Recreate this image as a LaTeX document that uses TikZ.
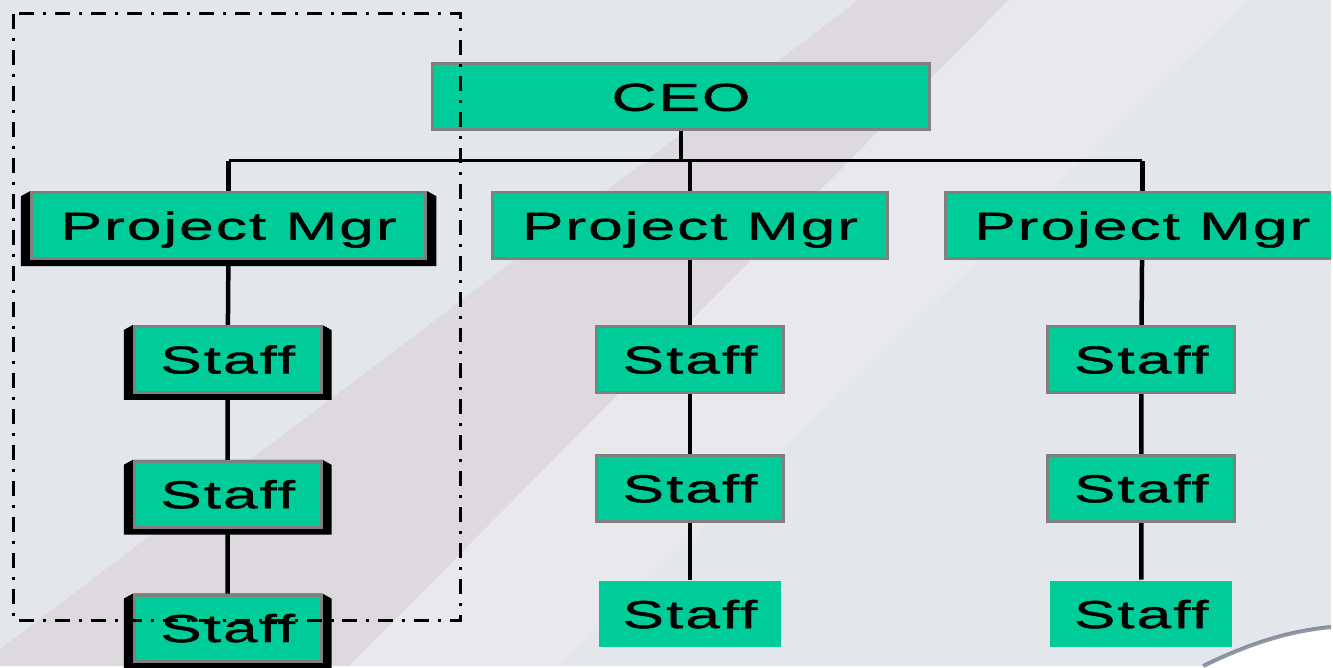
\documentclass[tikz,border=0pt]{standalone}
\usepackage{fontspec}
\newfontfamily\orgfont[FakeStretch=1.6,LetterSpace=5,FakeBold=1]{Liberation Sans}
\usetikzlibrary{calc}
\pgfdeclarelayer{paper}
\pgfdeclarelayer{back}
\pgfsetlayers{paper,back,main}
\definecolor{orggreen}{RGB}{0,204,153}
\definecolor{orggray}{RGB}{128,128,128}
\definecolor{paperblue}{RGB}{227,230,235}
\definecolor{paperpink}{RGB}{222,217,222}
\definecolor{paperlight}{RGB}{231,233,237}
\definecolor{curledge}{RGB}{70,85,110}
\tikzset{
  box/.style={fill=orggreen, draw=orggray, line width=3pt, inner sep=0pt,
    minimum height=66pt, text height=28pt, text depth=0pt,
    font=\orgfont\fontsize{39}{39}\selectfont},
  flatbox/.style={box, draw=none},
  link/.style={line width=4.5pt},
  busline/.style={line width=3pt},
}
% black side walls of the boxes in the left team
\newcommand\sidewall[1]{%
  \fill ($(#1.north west)+(-9,5)$) -- (#1.north west) -- (#1.north east)
    -- ($(#1.north east)+(9,5)$) -- ($(#1.south east)+(9,6)$)
    -- ($(#1.south west)+(-9,6)$) -- cycle;}
\begin{document}
\begin{tikzpicture}[x=1pt,y=-1pt]
  % page
  \begin{pgfonlayer}{paper}
    \fill[paperblue] (0,0) rectangle (1333,667);
    \fill[paperpink] (0,650) -- (860,0) -- (1010,0) -- (350,667) -- (0,667) -- cycle;
    \fill[paperlight] (1010,0) -- (1250,0) -- (560,667) -- (350,667) -- cycle;
    \fill[white] (1205,667) .. controls (1250,645) and (1290,632) .. (1333,628) -- (1333,667) -- cycle;
    \draw[curledge, line width=4pt, opacity=.6] (1205,667) .. controls (1250,645) and (1290,632) .. (1333,628);
  \end{pgfonlayer}
  \useasboundingbox (0,0) rectangle (1333,667);
  \clip (0,0) rectangle (1333,667);

  % boxes
  \node[box, minimum width=497pt] (ceo) at (682,97) {CEO};
  \node[box, minimum width=395pt] (pm1) at (229,226) {Project Mgr};
  \node[box, minimum width=395pt] (pm2) at (691,226) {Project Mgr};
  \node[box, minimum width=395pt] (pm3) at (1144,226) {Project Mgr};
  \foreach \y [count=\i] in {360,495,629}
    \node[box, minimum width=187pt] (sa\i) at (228,\y) {Staff};
  \foreach \x/\c in {691/b,1143/c} {
    \node[box, minimum width=187pt] (s\c1) at (\x,360) {Staff};
    \node[box, minimum width=187pt] (s\c2) at (\x,489) {Staff};
    \node[flatbox, minimum width=182pt] (s\c3) at (\x,615) {Staff};
  }

  % lines
  \begin{pgfonlayer}{back}
    \coordinate (bus) at (0,161);
    \draw[link] (ceo.south) -- (ceo.south |- bus);
    \draw[busline] (pm1.north |- bus) -- (pm3.north |- bus);
    \draw[link] (pm1.north) -- (pm1.north |- bus);
    \draw[link] (pm2.north) -- (pm2.north |- bus);
    \draw[link] (pm3.north) -- (pm3.north |- bus);
    \draw[link] (pm1) -- (sa1) -- (sa2) -- (sa3);
    \draw[link] (pm2) -- (sb1) -- (sb2) -- (sb3);
    \draw[link] (pm3) -- (sc1) -- (sc2) -- (sc3);
    \sidewall{pm1}
    \foreach \i in {1,2,3} {\sidewall{sa\i}}
  \end{pgfonlayer}

  % team frame
  \draw[line width=3pt, dash pattern=on 15pt off 9pt on 3pt off 9pt] (14,14) rectangle (461,621);
\end{tikzpicture}
\end{document}
